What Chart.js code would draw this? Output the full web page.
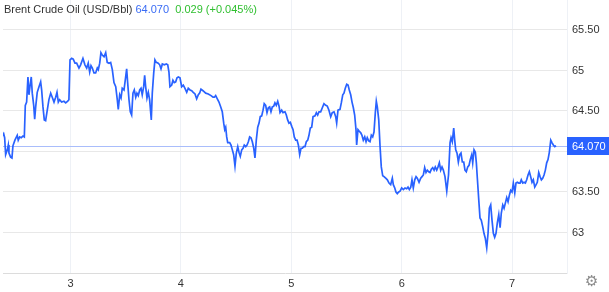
<!DOCTYPE html>
<html>
<head>
<meta charset="utf-8">
<script src="https://cdn.jsdelivr.net/npm/chart.js@4"></script>
<style>
  body { margin: 0; background: #fff; }
  #caixa { position: relative; width: 609px; height: 292px; }
  #titulo { position: absolute; left: 4px; top: 3px; font: 11px "Liberation Sans", Arial, sans-serif; color: #333; white-space: pre; }
  #engrenagem { position: absolute; left: 585px; top: 272px; font: 15px "DejaVu Sans", sans-serif; color: #8a8a8a; }
</style>
</head>
<body>
<div id="caixa">
  <canvas id="grafico-brent" width="609" height="292"></canvas>
  <div id="titulo"></div>
  <div id="engrenagem">⚙</div>
</div>
<script>
// dados (dia do mes, preco em USD/Bbl)
const tempos = [
  2.382, 2.395, 2.404, 2.413, 2.428, 2.437, 2.443, 2.458, 2.470, 2.479,
  2.497, 2.518, 2.527, 2.540, 2.554, 2.570, 2.582, 2.591, 2.603, 2.615,
  2.624, 2.633, 2.645, 2.654, 2.667, 2.676, 2.685, 2.699, 2.715, 2.730,
  2.739, 2.751, 2.763, 2.775, 2.790, 2.805, 2.821, 2.835, 2.851, 2.866,
  2.878, 2.890, 2.902, 2.920, 2.941, 2.957, 2.975, 2.986, 2.996, 3.011,
  3.025, 3.041, 3.056, 3.077, 3.092, 3.113, 3.131, 3.147, 3.161, 3.174,
  3.186, 3.198, 3.213, 3.228, 3.243, 3.252, 3.265, 3.276, 3.288, 3.304,
  3.319, 3.333, 3.349, 3.364, 3.379,
  3.394, 3.410, 3.424, 3.433, 3.446, 3.458, 3.469, 3.485, 3.500, 3.509,
  3.518, 3.530, 3.542, 3.554, 3.566, 3.578, 3.591, 3.602, 3.614, 3.627,
  3.639, 3.650, 3.663, 3.672, 3.681, 3.693, 3.705, 3.717, 3.732, 3.741,
  3.754, 3.765, 3.777, 3.795, 3.808, 3.820, 3.832, 3.850, 3.868, 3.881,
  3.892, 3.901, 3.917, 3.928, 3.940, 3.953, 3.965, 3.977, 3.992, 4.007,
  4.022, 4.037, 4.053, 4.067, 4.083, 4.098, 4.112, 4.128, 4.143, 4.158,
  4.170, 4.182, 4.200, 4.225, 4.248, 4.273, 4.291, 4.303, 4.315, 4.330, 4.345,
  4.361, 4.375, 4.388, 4.397, 4.406, 4.415, 4.424, 4.442, 4.454, 4.466,
  4.478, 4.490, 4.502, 4.515, 4.526, 4.538, 4.551, 4.563, 4.574, 4.587,
  4.599, 4.611, 4.623, 4.635, 4.647, 4.660, 4.671, 4.683, 4.696, 4.708,
  4.719, 4.732, 4.744, 4.755, 4.768, 4.780, 4.792, 4.804, 4.816, 4.828,
  4.841, 4.852, 4.864, 4.877, 4.889, 4.898, 4.913, 4.925, 4.943, 4.955,
  4.967, 4.979, 4.991, 5.004, 5.016, 5.027, 5.040, 5.052, 5.064, 5.076,
  5.088, 5.100, 5.112, 5.124, 5.136, 5.149, 5.160, 5.172, 5.185, 5.197,
  5.215, 5.227, 5.239, 5.251, 5.266, 5.281, 5.296, 5.312, 5.326, 5.341,
  5.357, 5.371, 5.387, 5.402, 5.411, 5.423,
  5.441, 5.453, 5.466, 5.477, 5.489, 5.502, 5.514, 5.525, 5.538, 5.550,
  5.562, 5.574, 5.586, 5.592, 5.604, 5.616, 5.629, 5.640, 5.652, 5.665,
  5.677, 5.688, 5.701, 5.713, 5.725, 5.737, 5.749, 5.761, 5.770, 5.779,
  5.792, 5.804, 5.815, 5.828, 5.840, 5.855, 5.870, 5.885, 5.900, 5.915,
  5.924, 5.937, 5.948, 5.960, 5.973, 5.985, 6.000, 6.015, 6.030, 6.045,
  6.057, 6.069, 6.082, 6.093, 6.105, 6.118, 6.130, 6.141, 6.157, 6.172,
  6.184, 6.196, 6.208, 6.220, 6.232, 6.245, 6.256, 6.268, 6.281, 6.293,
  6.304, 6.317, 6.329, 6.341, 6.353, 6.365, 6.377, 6.392, 6.408,
  6.424, 6.438, 6.447, 6.458, 6.471, 6.480, 6.489, 6.501, 6.513, 6.525,
  6.537, 6.549, 6.562, 6.573, 6.585, 6.598, 6.610, 6.621, 6.634, 6.643,
  6.655, 6.667, 6.676, 6.685, 6.698, 6.709, 6.721, 6.734, 6.745, 6.757,
  6.770, 6.782, 6.794, 6.806, 6.818, 6.830, 6.842, 6.854, 6.866, 6.879,
  6.891, 6.902, 6.915, 6.927, 6.938, 6.951, 6.963, 6.975, 6.987, 6.999,
  7.011, 7.024, 7.035, 7.047, 7.060, 7.072, 7.083, 7.096, 7.108, 7.120,
  7.132, 7.144, 7.156, 7.168, 7.180, 7.192, 7.205, 7.217, 7.228, 7.241,
  7.253, 7.265, 7.277, 7.289, 7.301, 7.313, 7.325, 7.337, 7.350, 7.361,
  7.373, 7.386, 7.398
];
const precos = [
  64.19, 64.22, 64.17, 63.96, 64.02, 64.08, 63.98, 63.93, 63.92, 64.07,
  64.14, 64.20, 64.14, 64.18, 64.17, 64.19, 64.18, 64.57, 64.61, 64.92,
  64.70, 64.80, 64.92, 64.72, 64.57, 64.40, 64.55, 64.73, 64.80, 64.86,
  64.76, 64.55, 64.39, 64.38, 64.51, 64.64, 64.72, 64.67, 64.61, 64.67,
  64.73, 64.61, 64.64, 64.61, 64.62, 64.60, 64.62, 64.64, 65.13, 65.15,
  65.14, 65.09, 65.09, 65.03, 65.07, 65.15, 65.07, 65.03, 65.09, 64.98,
  65.06, 65.03, 64.97, 64.97, 65.03, 65.01, 65.09, 65.22, 65.19, 65.17,
  65.22, 65.10, 65.09, 65.10, 65.01,
  64.85, 64.80, 64.64, 64.52, 64.70, 64.66, 64.78, 64.76, 64.92, 65.02,
  64.85, 64.64, 64.49, 64.45, 64.72, 64.76, 64.67, 64.72, 64.69, 64.76,
  64.78, 64.70, 64.80, 64.94, 64.80, 64.66, 64.73, 64.64, 64.39, 64.72,
  64.97, 65.13, 65.10, 65.09, 65.07, 65.02, 65.08, 65.07, 65.08, 65.07,
  64.98, 64.80, 64.82, 64.88, 64.85, 64.86, 64.91, 64.92, 64.91, 64.80,
  64.82, 64.78, 64.73, 64.78, 64.76, 64.75, 64.73, 64.71, 64.65, 64.70,
  64.72, 64.77, 64.75, 64.72, 64.71, 64.69, 64.67, 64.67, 64.69, 64.65, 64.61,
  64.55, 64.49, 64.35, 64.27, 64.30, 64.18, 64.11, 64.11, 64.08, 64.02,
  63.96, 63.82, 63.98, 64.06, 63.99, 63.94, 64.02, 64.04, 64.08, 64.06,
  64.08, 64.12, 64.18, 64.17, 64.12, 64.04, 63.92, 64.14, 64.30, 64.35,
  64.43, 64.44, 64.51, 64.59, 64.57, 64.48, 64.54, 64.55, 64.49, 64.55,
  64.56, 64.60, 64.57, 64.62, 64.56, 64.48, 64.51, 64.48, 64.49, 64.45,
  64.39, 64.35, 64.36, 64.31, 64.27, 64.18, 64.14, 64.14, 64.08, 63.96,
  64.04, 64.04, 64.06, 64.06, 64.12, 64.14, 64.20, 64.29, 64.30, 64.43,
  64.44, 64.48, 64.45, 64.49, 64.49, 64.54, 64.59, 64.57, 64.56, 64.51,
  64.43, 64.48, 64.49, 64.43, 64.35, 64.51,
  64.52, 64.60, 64.70, 64.72, 64.78, 64.83, 64.82, 64.76, 64.70, 64.61,
  64.54, 64.45, 64.27, 64.08, 64.27, 64.25, 64.23, 64.20, 64.14, 64.18,
  64.12, 64.17, 64.13, 64.12, 64.20, 64.18, 64.24, 64.48, 64.62, 64.55,
  64.39, 64.06, 63.81, 63.70, 63.69, 63.67, 63.65, 63.61, 63.59, 63.67,
  63.59, 63.55, 63.50, 63.48, 63.50, 63.51, 63.55, 63.53, 63.55, 63.54,
  63.56, 63.53, 63.56, 63.65, 63.55, 63.65, 63.69, 63.67, 63.62, 63.67,
  63.69, 63.71, 63.80, 63.74, 63.77, 63.75, 63.74, 63.78, 63.80, 63.77,
  63.81, 63.77, 63.81, 63.86, 63.77, 63.81, 63.77, 63.69, 63.51,
  63.71, 64.11, 64.17, 64.12, 64.29, 64.14, 64.02, 63.98, 63.87, 63.96,
  63.98, 63.87, 63.87, 63.77, 63.75, 63.81, 63.83, 63.90, 63.96, 63.86,
  64.02, 63.99, 63.86, 63.67, 63.40, 63.18, 63.15, 63.07, 62.99, 62.93,
  62.81, 62.99, 63.30, 63.34, 63.15, 62.99, 62.94, 62.99, 63.12, 63.22,
  63.06, 63.24, 63.34, 63.30, 63.36, 63.43, 63.38, 63.46, 63.52, 63.50,
  63.61, 63.49, 63.61, 63.62, 63.61, 63.61, 63.65, 63.61, 63.62, 63.61,
  63.65, 63.71, 63.75, 63.69, 63.62, 63.65, 63.56, 63.59, 63.62, 63.74,
  63.69, 63.65, 63.67, 63.71, 63.77, 63.86, 63.90, 63.99, 64.14, 64.11,
  64.08, 64.06, 64.07
];
const diasTicks = [3, 4, 5, 6, 7];
const precoTicks = [63, 63.5, 64, 64.5, 65, 65.5];
const nome = "Brent Crude Oil (USD/Bbl)";
const variacao = "0.029 (+0.045%)";

const ultimo = precos[precos.length - 1];
const fonte = "'Liberation Sans', Arial, sans-serif";

document.getElementById("titulo").innerHTML =
  nome + ' <span style="color:#3a6cf4">' + ultimo.toFixed(3) + '</span>  <span style="color:#2fbf2f">' + variacao + '</span>';

// linha do ultimo preco + etiqueta azul no eixo
const etiquetaPreco = {
  id: "etiquetaPreco",
  beforeDatasetsDraw(chart) {
    const a = chart.chartArea, y = chart.scales.y.getPixelForValue(ultimo);
    const ctx = chart.ctx;
    ctx.save();
    ctx.strokeStyle = "#a9bdfb";
    ctx.lineWidth = 1;
    ctx.beginPath();
    ctx.moveTo(a.left, Math.round(y) + 0.5);
    ctx.lineTo(a.right, Math.round(y) + 0.5);
    ctx.stroke();
    ctx.restore();
  },
  afterDraw(chart) {
    const a = chart.chartArea, y = chart.scales.y.getPixelForValue(ultimo);
    const ctx = chart.ctx;
    ctx.save();
    ctx.fillStyle = "#2962ff";
    ctx.fillRect(a.right, Math.round(y) - 9, chart.width - a.right, 18);
    ctx.fillStyle = "#fff";
    ctx.font = "11px " + fonte;
    ctx.textBaseline = "middle";
    ctx.fillText(ultimo.toFixed(3), a.right + 5, Math.round(y) + 0.5);
    ctx.restore();
  }
};

new Chart(document.getElementById("grafico-brent"), {
  type: "line",
  data: {
    datasets: [{
      data: tempos.map((t, i) => ({ x: t, y: precos[i] })),
      borderColor: "#2962ff",
      borderWidth: 1.7,
      pointRadius: 0,
      tension: 0,
      fill: false
    }]
  },
  options: {
    responsive: false,
    animation: false,
    layout: { padding: { left: 3 } },
    plugins: { legend: { display: false }, tooltip: { enabled: false } },
    scales: {
      x: {
        type: "linear",
        min: 2.389,
        max: 7.497,
        afterBuildTicks: s => { s.ticks = diasTicks.map(v => ({ value: v })); },
        afterFit: s => { s.height = 19; s.paddingLeft = 0; s.paddingRight = 0; },
        grid: { color: "#eef1f6", drawTicks: false },
        border: { color: "#dcdcdc" },
        ticks: { padding: 4, color: "#333", font: { family: fonte, size: 11 }, callback: v => String(v) }
      },
      y: {
        position: "right",
        min: 62.5,
        max: 65.87,
        afterBuildTicks: s => { s.ticks = precoTicks.map(v => ({ value: v })); },
        afterFit: s => { s.width = 42; s.paddingTop = 0; s.paddingBottom = 0; },
        grid: { color: "#e8e8e8", drawTicks: false },
        border: { color: "#eef1f6" },
        ticks: {
          padding: 5, color: "#333", font: { family: fonte, size: 11 },
          callback: v => v === 64 ? "" : (v % 1 === 0 ? String(v) : v.toFixed(2))
        }
      }
    }
  },
  plugins: [etiquetaPreco]
});
</script>
</body>
</html>
